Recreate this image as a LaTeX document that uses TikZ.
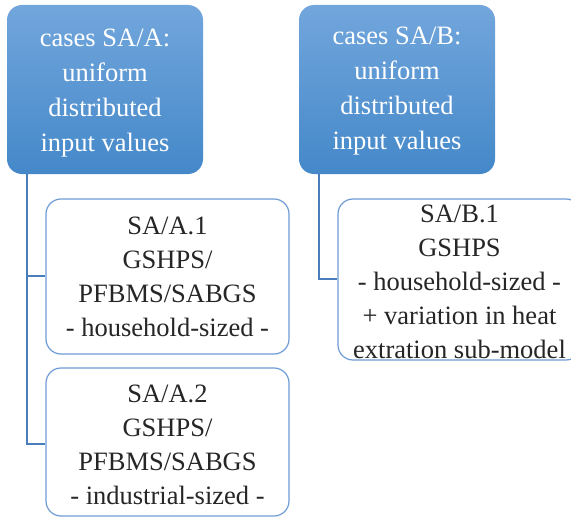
\documentclass[tikz,border=0pt]{standalone}
\usepackage{fontspec}
\setmainfont{Liberation Serif}
\begin{document}
\begin{tikzpicture}[x=1pt,y=-1pt,
  headbox/.style={draw=none, rounded corners=15pt, top color=headtop, bottom color=headbot,
    minimum width=196pt, minimum height=169pt, inner sep=0pt},
  subbox/.style={draw=subline, line width=1.2pt, fill=white, rounded corners=15pt,
    minimum width=243pt, inner sep=0pt},
  headtext/.style={text=white, align=center, font=\fontsize{26.5}{35}\selectfont},
  subtext/.style={text=black!85, align=center, font=\fontsize{26.5}{34}\selectfont},
  link/.style={draw=linkcol, line width=1.3pt}
]
\definecolor{headtop}{RGB}{114,166,220}
\definecolor{headbot}{RGB}{68,136,201}
\definecolor{subline}{RGB}{110,156,212}
\definecolor{linkcol}{RGB}{74,126,187}

\useasboundingbox (0,0) rectangle (571,519);
\clip (0,0) rectangle (571,519);

% junction points on the two vertical trunks
\coordinate (ta) at (27,174);
\coordinate (ja1) at (27,276);
\coordinate (ja2) at (27,444);
\coordinate (tb) at (319,174);
\coordinate (jb1) at (319,279);

% header boxes
\node[headbox] (A) at (105,89.5) {};
\node[headtext] (Atext) at (105,93) {cases SA/A:\\uniform\\distributed\\input values};
\node[headbox] (B) at (397,89.5) {};
\node[headtext] (Btext) at (397,91.5) {cases SA/B:\\uniform\\distributed\\input values};

% sub-case boxes
\node[subbox, minimum height=155pt] (A1) at (167.5,276.5) {};
\node[subtext] (A1text) at (167.5,277) {SA/A.1\\GSHPS/\\PFBMS/SABGS\\- household-sized -};
\node[subbox, minimum height=148pt] (A2) at (167.5,442) {};
\node[subtext] (A2text) at (167.5,445) {SA/A.2\\GSHPS/\\PFBMS/SABGS\\- industrial-sized -};
\node[subbox, minimum height=161pt] (B1) at (459.5,279.5) {};
\node[subtext] (B1text) at (459.5,282) {SA/B.1\\GSHPS\\- household-sized -\\+ variation in heat\\extration sub-model};

\draw[link] (A.south -| ta) -- (ja2) -- (A2.west |- ja2);
\draw[link] (ja1) -- (A1.west |- ja1);
\draw[link] (B.south -| tb) -- (jb1) -- (B1.west |- jb1);
\end{tikzpicture}
\end{document}
